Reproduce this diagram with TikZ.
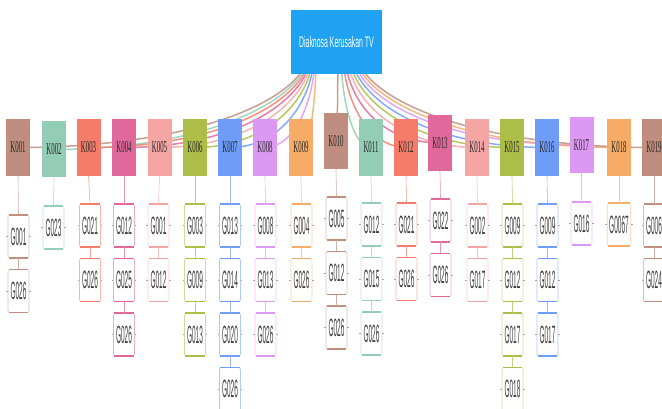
\documentclass[tikz,border=0pt]{standalone}
\usepackage{fontspec}
\setmainfont{Liberation Serif}
\setsansfont{Liberation Sans}
\usetikzlibrary{backgrounds,calc}

\definecolor{rootblue}{HTML}{1FA2F2}
\definecolor{cbrown}{HTML}{BF8E7E}
\definecolor{cmint}{HTML}{94CDB5}
\definecolor{ccoral}{HTML}{F47C68}
\definecolor{cpink}{HTML}{E0689A}
\definecolor{clpink}{HTML}{F6A5A5}
\definecolor{colive}{HTML}{ADBE48}
\definecolor{cblue}{HTML}{6E9CF7}
\definecolor{cviolet}{HTML}{DC98F2}
\definecolor{corange}{HTML}{F6AC66}

\tikzset{
  rootbox/.style={fill=rootblue, minimum width=91pt, minimum height=64pt,
    inner sep=0pt, text=white, font=\sffamily\fontsize{15.4}{16}\selectfont},
  kbox/.style={fill=#1, minimum width=24pt, inner sep=0pt,
    text=black!85, font=\fontsize{16.6}{18}\selectfont},
  gbox/.style={draw=#1!55, fill=white, line width=0.7pt, rounded corners=1.5pt,
    minimum width=21pt, minimum height=43pt, inner sep=0pt, inner xsep=2pt,
    text=black!75, font=\sffamily\fontsize{25}{26}\selectfont},
  gtrim/.style={draw=#1, line width=1.2pt},
  branch/.style={draw=#1, line width=1.5pt, opacity=0.85},
  stem/.style={draw=#1!70, line width=0.6pt},
  porttick/.style={draw=black!35, line width=0.4pt}
}

\begin{document}
\begin{tikzpicture}[x=1pt, y=-1pt]
\useasboundingbox (0,0) rectangle (662,409);
\begin{scope}[on background layer]
  \fill[white] (0,0) rectangle (662,409);
\end{scope}

% central topic
\node[rootbox] (root) at (336.5,42) {\scalebox{0.45}[1]{Diaknosa Kerusakan TV}};

% damage categories K, their symptoms G, and the branches from the root
\foreach \k/\cx/\cy/\h/\col/\sx/\gtop/\gx/\gl in {
  001/18/147.5/57/cbrown/300/215/18.5/{G001,G026},
  002/54/149.5/56/cmint/302/206/53.5/{G023},
  003/88.5/147.5/57/ccoral/304/204/90/{G021,G026},
  004/124/147.5/57/cpink/306/204/124/{G012,G025,G026},
  005/159.5/147.5/57/clpink/308/204/158.5/{G001,G012},
  006/195/147.5/57/colive/310/204/195/{G003,G009,G013},
  007/230/147.5/57/cblue/312/204/230/{G013,G014,G020,G026},
  008/265/147.5/57/cviolet/314/204/265.5/{G008,G013,G026},
  009/301/147.5/57/corange/316/204/301.5/{G004,G026},
  010/336/141/56/cbrown/338/197/336.5/{G005,G012,G026},
  011/371/147.5/57/cmint/342/203/371.5/{G012,G015,G026},
  012/406/147.5/57/ccoral/345/203/406.5/{G021,G026},
  013/440/143/56/cpink/348/199/440.5/{G022,G026},
  014/477/147.5/57/clpink/351/204/477.5/{G002,G017},
  015/512/147.5/57/colive/354/204/512.5/{G009,G012,G017,G018},
  016/547/147.5/57/cblue/357/204/547.5/{G009,G012,G017},
  017/581.5/145/56/cviolet/360/202/581.5/{G016},
  018/619/147.5/57/corange/363/203/619/{G0067},
  019/654/147.5/57/cbrown/366/204/654/{G006,G024}} {
  \node[kbox=\col, minimum height=\h pt] (K\k) at (\cx,\cy) {\scalebox{0.41}[1]{K\k}};
  \begin{scope}[on background layer]
    \draw[branch=\col] ($(root.south west)+(\sx-291,0)$)
      .. controls +({0.12*(\cx-\sx)},42) and +({-0.5*(\cx-\sx)},0) .. (K\k.center);
  \end{scope}
  \foreach \g [count=\j, evaluate=\j as \jp using int(\j-1)] in \gl {
    \node[gbox=\col] (G\k-\j) at (\gx,{\gtop+21.5+(\j-1)*54.5}) {\scalebox{0.26}[1]{\g}};
    \draw[gtrim=\col] ([xshift=1.2pt,yshift=-0.3pt]G\k-\j.north west) -- ([xshift=-1.2pt,yshift=-0.3pt]G\k-\j.north east);
    \draw[gtrim=\col] ([xshift=1.2pt,yshift=0.3pt]G\k-\j.south west) -- ([xshift=-1.2pt,yshift=0.3pt]G\k-\j.south east);
    \draw[porttick] (G\k-\j.west) -- ++(-1.5,0);
    \draw[porttick] (G\k-\j.east) -- ++(1.5,0);
    \ifnum\j=1
      \draw[stem=\col] (K\k.south) -- (G\k-\j.north);
    \else
      \draw[stem=\col] (G\k-\jp.south) -- (G\k-\j.north);
    \fi
  }
}
\end{tikzpicture}
\end{document}
